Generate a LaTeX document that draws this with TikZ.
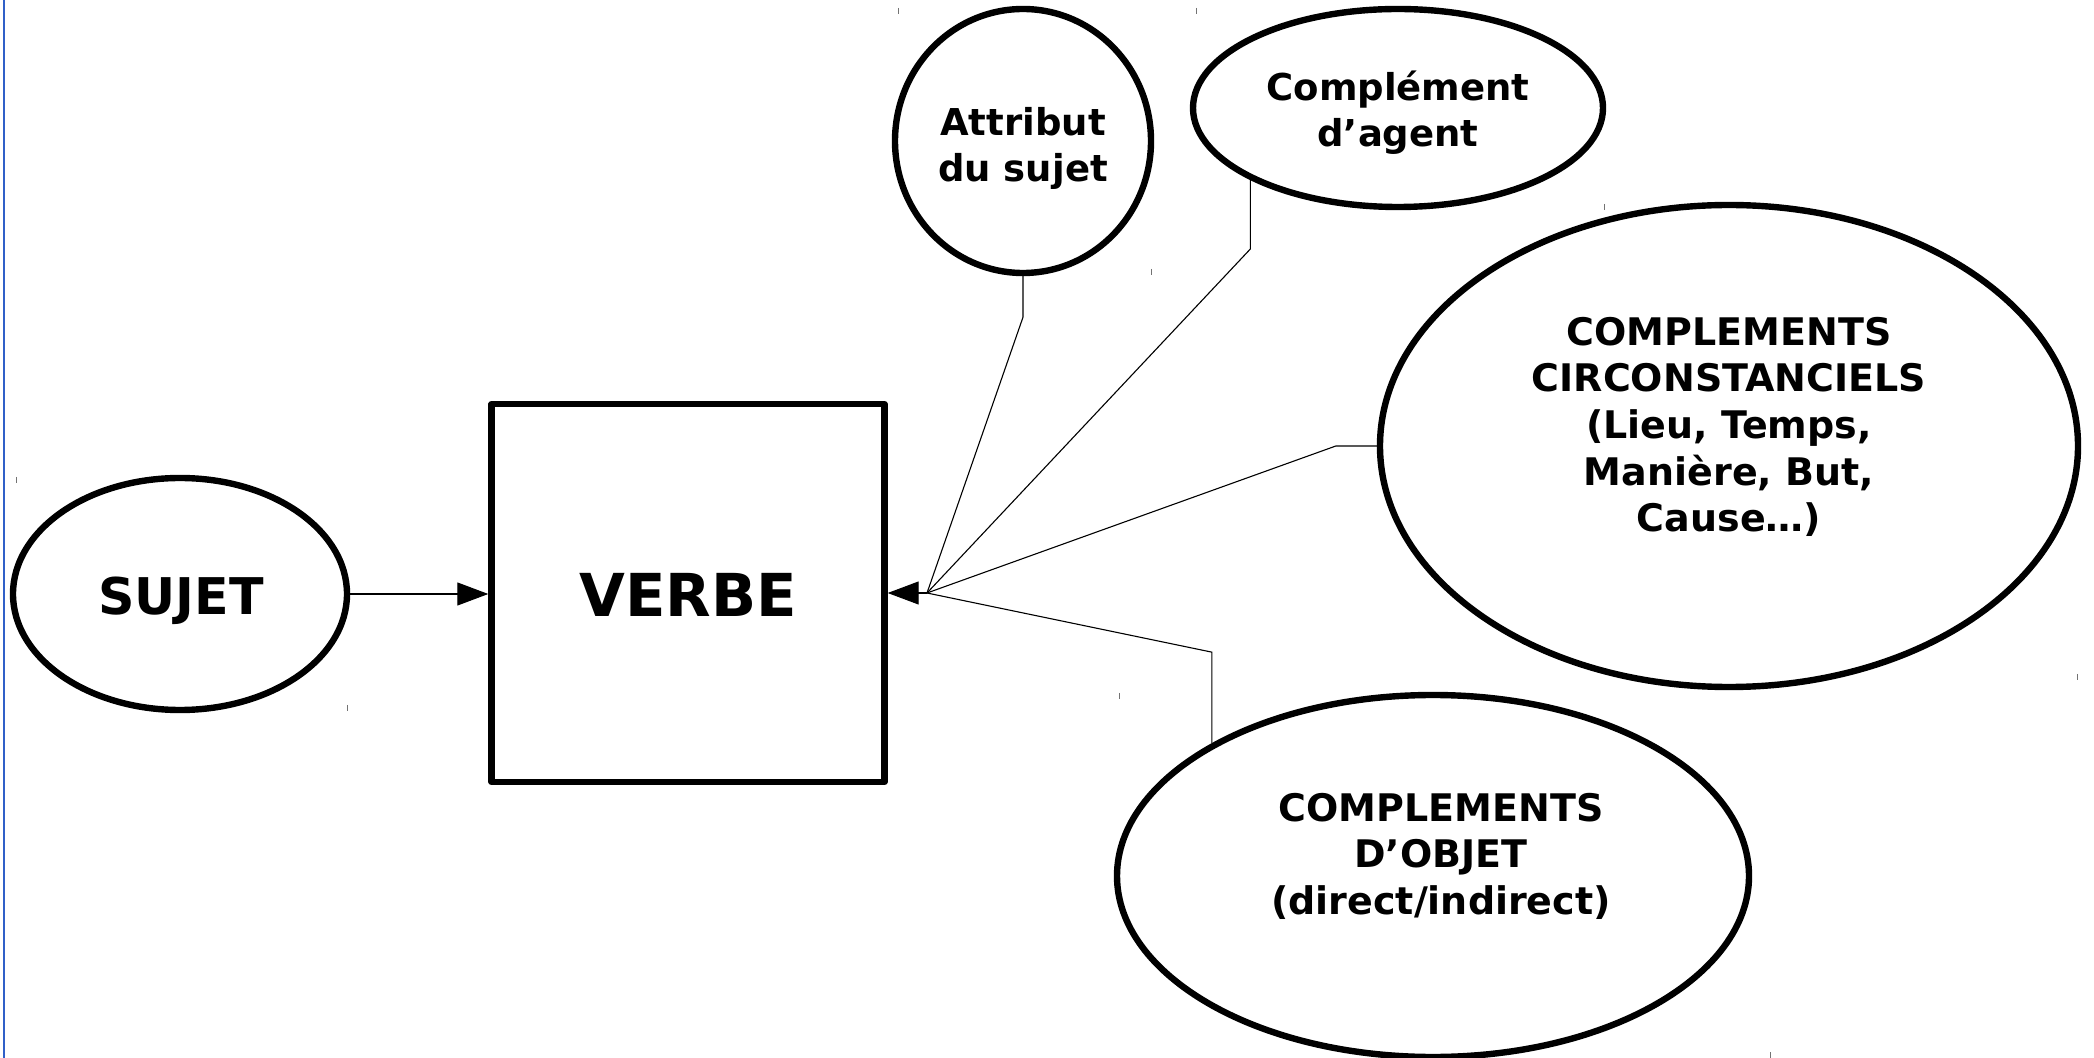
\documentclass[tikz,border=0pt]{standalone}
\usepackage{fontspec}
\setmainfont{DejaVu Sans}
\usetikzlibrary{shapes.geometric,arrows.meta}
\definecolor{edgeblue}{RGB}{48,96,200}
\begin{document}
\begin{tikzpicture}[x=0.5pt,y=-0.5pt,
  shapeline/.style={draw=black,line width=3.2pt,line join=round},
  ell/.style={shapeline,ellipse,inner sep=0pt},
  lbl/.style={font=\bfseries\fontsize{18.5}{23}\selectfont,align=center,inner sep=0pt},
  biglbl/.style={font=\bfseries\fontsize{19}{23.3}\selectfont,align=center,inner sep=0pt},
  conn/.style={draw=black,line width=0.55pt},
  arr/.style={conn,-{Triangle[length=15.5pt,width=11.5pt]}},
  handle/.style={draw=black!55,line width=0.5pt},
  pageedge/.style={draw=edgeblue,line width=0.8pt}]
\useasboundingbox (0,0) rectangle (2094,1058);
\fill[white] (0,0) rectangle (2094,1058);
\draw[pageedge] (4,0) -- (4,1058);

% shapes
\node[ell,minimum width=167pt,minimum height=116pt] (sujet) at (180,594) {};
\node[shapeline,rectangle,minimum width=196.5pt,minimum height=189pt,inner sep=0pt] (verbe) at (688,593) {};
\node[ell,minimum width=128pt,minimum height=132pt] (attr) at (1023,141) {};
\node[ell,minimum width=205pt,minimum height=99pt] (agent) at (1398,108) {};
\node[ell,minimum width=349pt,minimum height=241pt] (circ) at (1729,446) {};
\node[ell,minimum width=316pt,minimum height=181pt] (obj) at (1433,876) {};

% texts
\node[anchor=base,inner sep=0pt,font=\bfseries\fontsize{25.3}{30}\selectfont] (sujettxt) at (181,615) {SUJET};
\node[anchor=base,inner sep=0pt,font=\bfseries\fontsize{29.6}{35}\selectfont] (verbetxt) at (688,617) {VERBE};
\node[lbl,yshift=-3.5pt] (attrtxt) at (1023,141) {Attribut\\du sujet};
\node[lbl,yshift=-2.5pt] (agenttxt) at (1398,108) {Complément\\d’agent};
\node[biglbl,yshift=-1.5pt] (circtxt) at (1729,424) {COMPLEMENTS\\CIRCONSTANCIELS\\(Lieu, Temps,\\Manière, But,\\Cause…)};
\node[biglbl] (objtxt) at (1441,856) {COMPLEMENTS\\D’OBJET\\(direct/indirect)};

\coordinate (conv) at (927,593);

% connectors
\draw[arr] (sujet.east) -- (sujet.east -| verbe.west);
\draw[conn] (attr.south) -- ++(0,41) -- (conv);
\draw[conn] (agent.206.6) -- ++(0,69) -- (conv);
\draw[conn] (circ.west) -- ++(-41,0) -- (conv);
\draw[conn] (obj.149.4) -- ++(0,-91) -- (conv);
\draw[arr] (conv) -- (conv -| verbe.east);

% selection handle marks
\foreach \hx/\hy in {898/8,1196/8,1151/269,1604/204,16/477,347/705,1119/693,2077/674,1770/1052}
  \draw[handle] (\hx,\hy) -- ++(0,6);
\end{tikzpicture}
\end{document}
